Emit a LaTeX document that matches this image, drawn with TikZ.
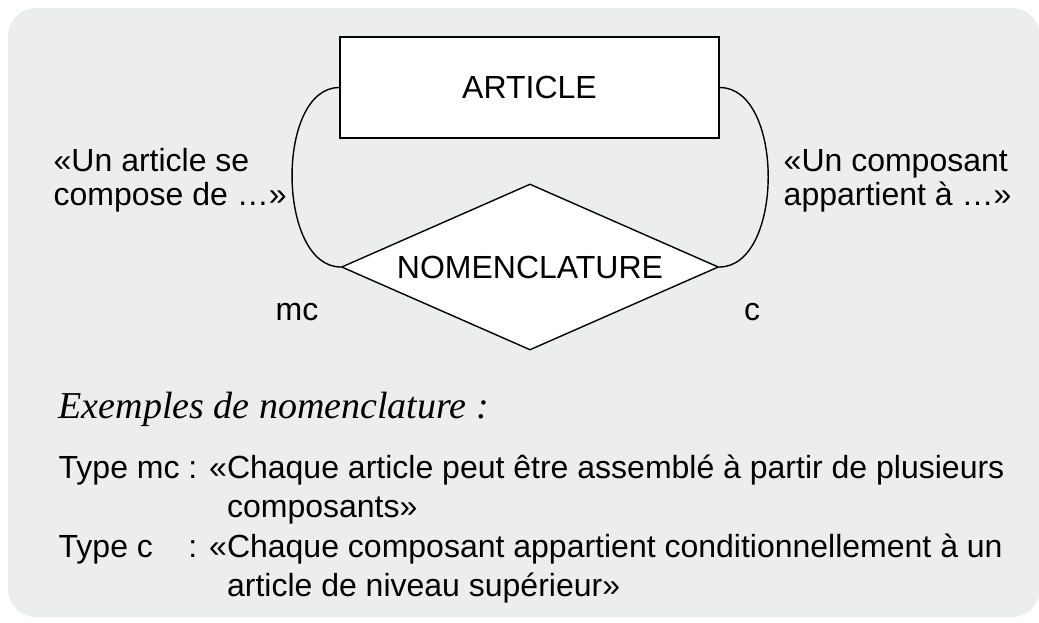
\documentclass[tikz,border=0pt]{standalone}
\usepackage{fontspec}
\setmainfont{Liberation Sans}
\newfontfamily\exfont{Liberation Serif}
\usetikzlibrary{shapes.geometric}

\definecolor{fondgris}{RGB}{236,237,237}

\begin{document}
\begin{tikzpicture}[x=1pt, y=-1pt, line width=1.4pt,
  every node/.style={font=\fontsize{32}{34}\selectfont, inner sep=0pt}]
\useasboundingbox (0,0) rectangle (1039,622);
\fill[fondgris, rounded corners=28pt] (8,8) rectangle (1040,617);
\node[draw, fill=white, minimum width=379pt, minimum height=101pt] (article) at (529.5,87.5) {ARTICLE};
\node[draw, fill=white, diamond, shape aspect=2.27, minimum width=377pt, minimum height=166pt] (nomen) at (530,267) {NOMENCLATURE};
\draw (article.west) .. controls +(-64,0) and +(-64,0) .. (nomen.west);
\draw (article.east) .. controls +(65,0) and +(65,0) .. (nomen.east);
\node[anchor = base] (mc) at (297,320) {mc};
\node[anchor = base] (c) at (752,320) {c};
\node[anchor = base west, align=left] (gauche) at (53,205) {«Un article se\\compose de …»};
\node[anchor = base west, align=left] (droite) at (783,205) {«Un composant\\appartient à …»};
\node[anchor = base west, font=\exfont\itshape\fontsize{38}{40}\selectfont] (exemples) at (58,418) {Exemples de nomenclature :};
\node[anchor = base west, font=\fontsize{32}{39.5}\selectfont] (types) at (58,478) {%
\begin{tabular}[t]{@{}l@{ }l@{}}
Type mc & : «Chaque article peut être assemblé à partir de plusieurs\\
 & \phantom{: «}composants»\\
Type c & : «Chaque composant appartient conditionnellement à un\\
 & \phantom{: «}article de niveau supérieur»
\end{tabular}};
\end{tikzpicture}
\end{document}
